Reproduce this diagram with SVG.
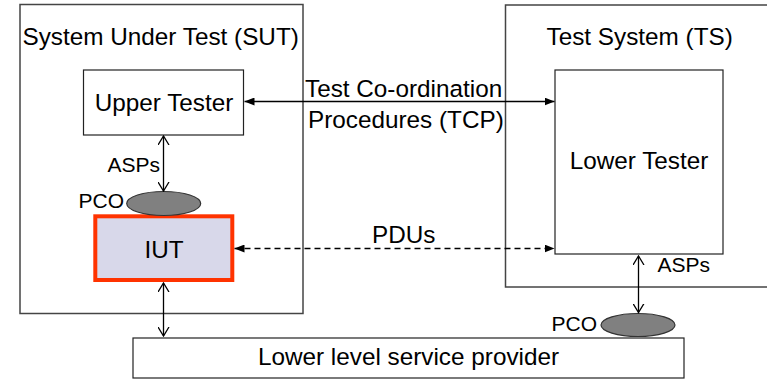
<svg xmlns="http://www.w3.org/2000/svg" width="767" height="379" viewBox="0 0 767 379">
<style>
text{font-family:"Liberation Sans",Arial,sans-serif;fill:#000}
.big{font-size:24.3px}
.sm{font-size:21px}
.frame{fill:#fff;stroke:#444;stroke-width:1.5}
.box{fill:#fff;stroke:#222;stroke-width:1.2}
.c{stroke:#000;stroke-width:1.3;fill:none}
.pco{fill:#808080;stroke:#333;stroke-width:1.2}
</style>
<defs>
<marker id="fa" viewBox="0 0 10 8" refX="10" refY="4" markerWidth="10" markerHeight="8" markerUnits="userSpaceOnUse" orient="auto-start-reverse"><path d="M0,0 L10,4 L0,8 Z" fill="#000"/></marker>
<marker id="oa" viewBox="0 0 10 12" refX="9" refY="6" markerWidth="10" markerHeight="12" markerUnits="userSpaceOnUse" orient="auto-start-reverse"><path d="M0,0.5 L9,6 L0,11.5" fill="none" stroke="#000" stroke-width="1.3"/></marker>
</defs>
<rect width="767" height="379" fill="#fff"/>
<g id="sut"><rect class="frame" x="20" y="4.5" width="283" height="309"/><text class="big" x="22.5" y="45">System Under Test (SUT)</text></g>
<g id="ts"><rect class="frame" x="505.5" y="5" width="280" height="282"/><text class="big" x="546.5" y="44.5">Test System (TS)</text></g>
<g id="upper-tester"><rect class="box" x="83.5" y="70" width="160" height="65"/><text class="big" x="164" y="111" text-anchor="middle">Upper Tester</text></g>
<g id="lower-tester"><rect class="box" x="555" y="70" width="168" height="184"/><text class="big" x="639" y="168.5" text-anchor="middle">Lower Tester</text></g>
<g id="iut"><rect x="95.3" y="216.3" width="137" height="63.7" fill="#D8D8EA" stroke="#FF3300" stroke-width="4"/><text class="big" x="164" y="257.5" text-anchor="middle">IUT</text></g>
<g id="pco-upper"><ellipse class="pco" cx="163.7" cy="203.5" rx="37" ry="12"/><text class="sm" x="78.5" y="207.5">PCO</text></g>
<g id="lower-provider"><rect class="box" x="133" y="338" width="551" height="40"/><text class="big" x="408.5" y="365" text-anchor="middle">Lower level service provider</text></g>
<g id="pco-lower"><ellipse class="pco" cx="638" cy="325" rx="37" ry="11.5"/><text class="sm" x="551.5" y="331">PCO</text></g>
<g id="connectors">
<line class="c" x1="244.5" y1="101.5" x2="554.5" y2="101.5" marker-start="url(#fa)" marker-end="url(#fa)"/>
<line class="c" x1="234.5" y1="248.5" x2="554.5" y2="248.5" stroke-dasharray="6,4" marker-start="url(#fa)" marker-end="url(#fa)"/>
<line class="c" x1="163.5" y1="136" x2="163.5" y2="191" marker-start="url(#oa)" marker-end="url(#oa)"/>
<line class="c" x1="163.5" y1="283" x2="163.5" y2="336" marker-start="url(#oa)" marker-end="url(#oa)"/>
<line class="c" x1="638.5" y1="256" x2="638.5" y2="312.5" marker-start="url(#oa)" marker-end="url(#oa)"/>
<text class="big" x="305" y="96.5">Test Co-ordination</text>
<text class="big" x="308" y="128.3">Procedures (TCP)</text>
<text class="big" x="372" y="243">PDUs</text>
<text class="sm" x="107.5" y="171.5">ASPs</text>
<text class="sm" x="657.5" y="271.5">ASPs</text>
</g>
</svg>
